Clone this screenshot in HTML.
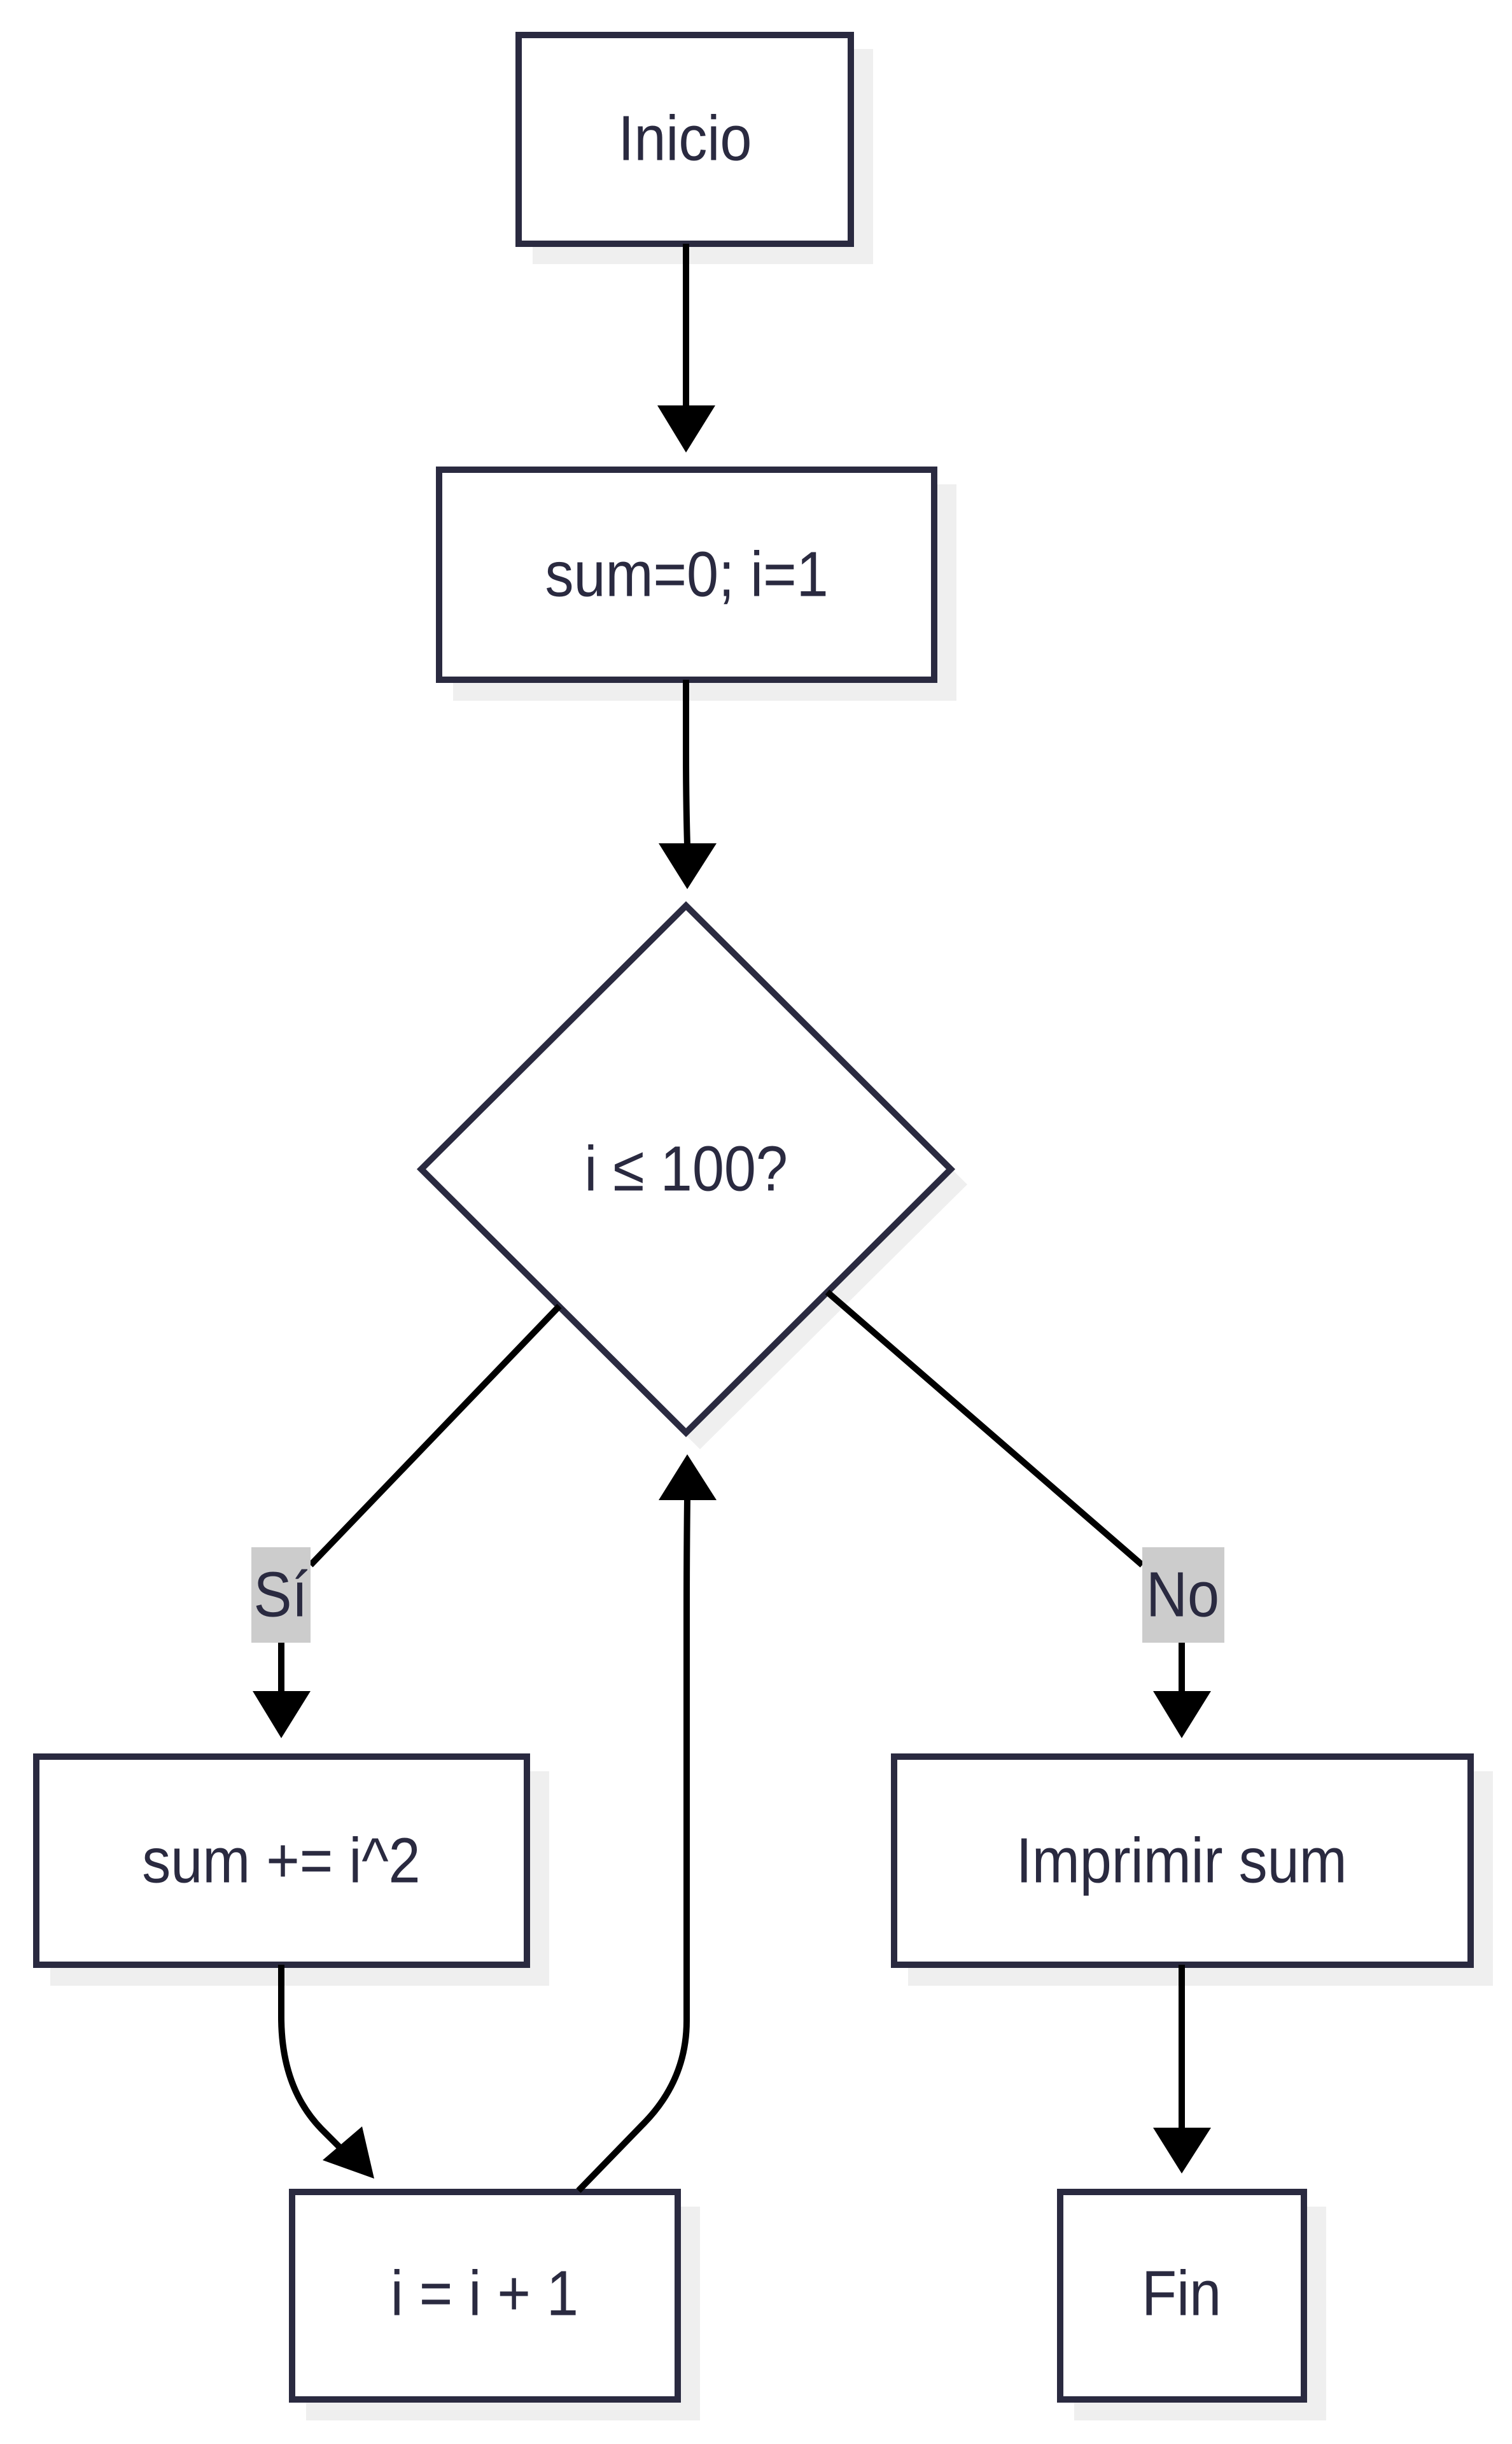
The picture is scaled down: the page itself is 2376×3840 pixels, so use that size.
<!DOCTYPE html>
<html><head><meta charset="utf-8"><style>
html,body{margin:0;padding:0;background:#fff;}
svg{display:block;}
text{font-family:"Liberation Sans","DejaVu Sans",sans-serif;font-size:100px;fill:#2a2a40;text-anchor:middle;dominant-baseline:central;}
</style></head><body>
<svg width="2376" height="3840" viewBox="0 0 2376 3840" xmlns="http://www.w3.org/2000/svg">
<!-- shadows -->
<g fill="#efefef">
<rect x="837" y="77" width="535" height="338"/>
<rect x="712" y="761" width="791" height="340"/>
<polygon points="1100,1445 1520,1861 1100,2277 680,1861"/>
<rect x="79" y="2783" width="784" height="337"/>
<rect x="1427" y="2783" width="919" height="337"/>
<rect x="481" y="3467" width="619" height="336"/>
<rect x="1688" y="3467" width="396" height="336"/>
</g>
<!-- nodes -->
<g fill="#fff" stroke="#2a2a40" stroke-width="10">
<rect x="815" y="55" width="522" height="328"/>
<rect x="690" y="738" width="778" height="330"/>
<polygon points="1078,1423 1494,1837 1078,2251 662,1837"/>
<rect x="57" y="2760" width="771" height="327"/>
<rect x="1405" y="2760" width="906" height="327"/>
<rect x="459" y="3444" width="606" height="326"/>
<rect x="1666" y="3444" width="383" height="326"/>
</g>
<!-- edges -->
<g fill="none" stroke="#000" stroke-width="10">
<path d="M1078 383 V640"/>
<path d="M1078 1068 V1180 Q1078 1260 1080 1328"/>
<path d="M879 2052 L488 2459"/>
<path d="M442 2581 V2660"/>
<path d="M1300 2030 L1795 2459"/>
<path d="M1857 2581 V2660"/>
<path d="M442 3087 V3169 Q442 3280 505 3345 L545 3385"/>
<path d="M909 3442 L1008 3340 Q1079 3270 1079 3175 V2532 Q1079 2440 1080 2355"/>
<path d="M1857 3087 V3345"/>
</g>
<!-- arrowheads -->
<g fill="#000">
<polygon points="1033,637 1124,637 1078,711"/>
<polygon points="1035,1325 1126,1325 1080,1397"/>
<polygon points="397,2657 488,2657 442,2731"/>
<polygon points="1812,2657 1903,2657 1857,2731"/>
<polygon points="1035,2357 1126,2357 1080,2285"/>
<polygon points="1812,3343 1903,3343 1857,3415"/>
<polygon points="507,3394 569,3341 588,3423"/>
</g>
<!-- labels -->
<rect x="395" y="2431" width="93" height="150" fill="#cccccc"/>
<rect x="1795" y="2431" width="129" height="150" fill="#cccccc"/>
<g transform="scale(0.9,1)">
<text x="490" y="2506">Sí</text>
<text x="2065" y="2506">No</text>
<text x="1196" y="218">Inicio</text>
<text x="1199" y="903">sum=0; i=1</text>
<text x="1198" y="1837">i ≤ 100?</text>
<text x="491" y="2924">sum += i^2</text>
<text x="2063" y="2924">Imprimir sum</text>
<text x="846" y="3604">i = i + 1</text>
<text x="2063" y="3604">Fin</text>
</g>
</svg>
</body></html>
